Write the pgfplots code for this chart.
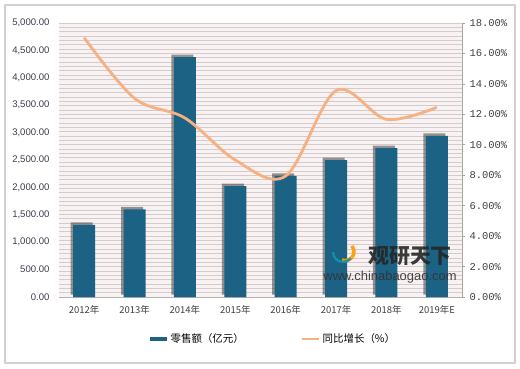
\documentclass[border=0pt]{standalone}
\usepackage{fontspec}
\setmainfont{Liberation Sans}
\newfontfamily\cjk{Noto Sans CJK SC}
\newfontfamily\rmono{Liberation Mono}
\usepackage{pgfplots}
\pgfplotsset{compat=1.18}
\usetikzlibrary{shadows}
\definecolor{barblue}{RGB}{27,98,132}
\definecolor{lineor}{RGB}{246,176,130}
\definecolor{plotbg}{RGB}{249,242,242}
\definecolor{gridc}{RGB}{212,204,204}
\definecolor{lefttxt}{RGB}{60,60,82}
\definecolor{righttxt}{RGB}{64,64,64}
\begin{document}
\begin{tikzpicture}[x=1bp,y=1bp]
\useasboundingbox (0,0) rectangle (520,368);
\fill[white] (0,0) rectangle (520,368);
\draw[gray!35, line width=2bp] (5,5) rectangle (515,363);
\begin{axis}[
  at={(59bp,71bp)}, anchor=south west, scale only axis,
  width=403bp, height=274bp,
  xmin=-0.5, xmax=7.5, ymin=0, ymax=5000,
  axis background/.style={fill=plotbg},
  axis x line*=bottom, axis y line*=left,
  x axis line style={draw=gray!60, line width=0.6bp},
  y axis line style={draw=none},
  xtick={0,...,7},
  xticklabels={2012年,2013年,2014年,2015年,2016年,2017年,2018年,2019年E},
  xticklabel style={font=\cjk\fontsize{9.5}{11}\selectfont, text=righttxt, yshift=-5bp},
  ytick={0,500,...,5000},
  minor ytick={79.365,158.73,...,4990},
  yminorgrids,
  minor grid style={gridc, line width=0.7bp},
  major tick length=0pt, minor tick length=0pt,
  yticklabel={\pgfmathprintnumber[fixed,fixed zerofill,precision=2,1000 sep={,}]{\tick}},
  yticklabel style={font=\fontsize{9.6}{11}\selectfont, text=lefttxt, xshift=-6bp},
  /pgf/number format/assume math mode=true,
  clip=false,
]
\addplot[ybar, bar width=22bp, fill=barblue, draw=none,
  drop shadow={shadow xshift=-2.5bp, shadow yshift=2.5bp, opacity=0.55, fill=black!75}]
  coordinates {(0,1315) (1,1600) (2,4375) (3,2025) (4,2210) (5,2500) (6,2715) (7,2940)};
\end{axis}
\begin{axis}[
  at={(59bp,71bp)}, anchor=south west, scale only axis,
  width=403bp, height=274bp,
  xmin=-0.5, xmax=7.5, ymin=0, ymax=18,
  axis x line=none, axis y line*=right,
  y axis line style={draw=gray!70, line width=0.6bp},
  ytick={0,2,...,18},
  tick align=outside, major tick length=3bp,
  tick style={gray!70, line width=0.6bp},
  yticklabel={\pgfmathprintnumber[fixed,fixed zerofill,precision=2]{\tick}\%},
  yticklabel style={font=\rmono\fontsize{10.5}{11}\selectfont, text=righttxt, xshift=1bp},
  /pgf/number format/assume math mode=true,
  legend style={at={(0.53,-0.153)}, anchor=center, draw=none, fill=none,
    legend columns=2, font=\cjk\fontsize{10.5}{12}\selectfont,
    /tikz/every even column/.append style={column sep=55bp}},
  legend cell align=left,
]
\addlegendimage{line width=3.5bp, barblue, line legend}
\addlegendentry{零售额（亿元）}
\addplot[lineor, line width=2.8bp, smooth, tension=0.55]
  coordinates {(0,17.03) (1,13.05) (2,11.76) (3,9.0) (4,7.95) (5,13.56) (6,11.67) (7,12.46)};
\addlegendentry{同比增长（\%）}
\end{axis}
% watermark
\begin{scope}[opacity=0.9]
\draw[orange!80!yellow, line width=3.5bp] (342,108) arc (250:400:9);
\draw[barblue!70!cyan, line width=2.5bp] (333,116) arc (180:320:10);
\node[font=\cjk\bfseries\fontsize{21}{22}\selectfont, text=black!85] at (410,112) {观研天下};
\node[font=\fontsize{13}{14}\selectfont, text=black!80] at (390,91) {www.chinabaogao.com};
\end{scope}
\end{tikzpicture}
\end{document}
